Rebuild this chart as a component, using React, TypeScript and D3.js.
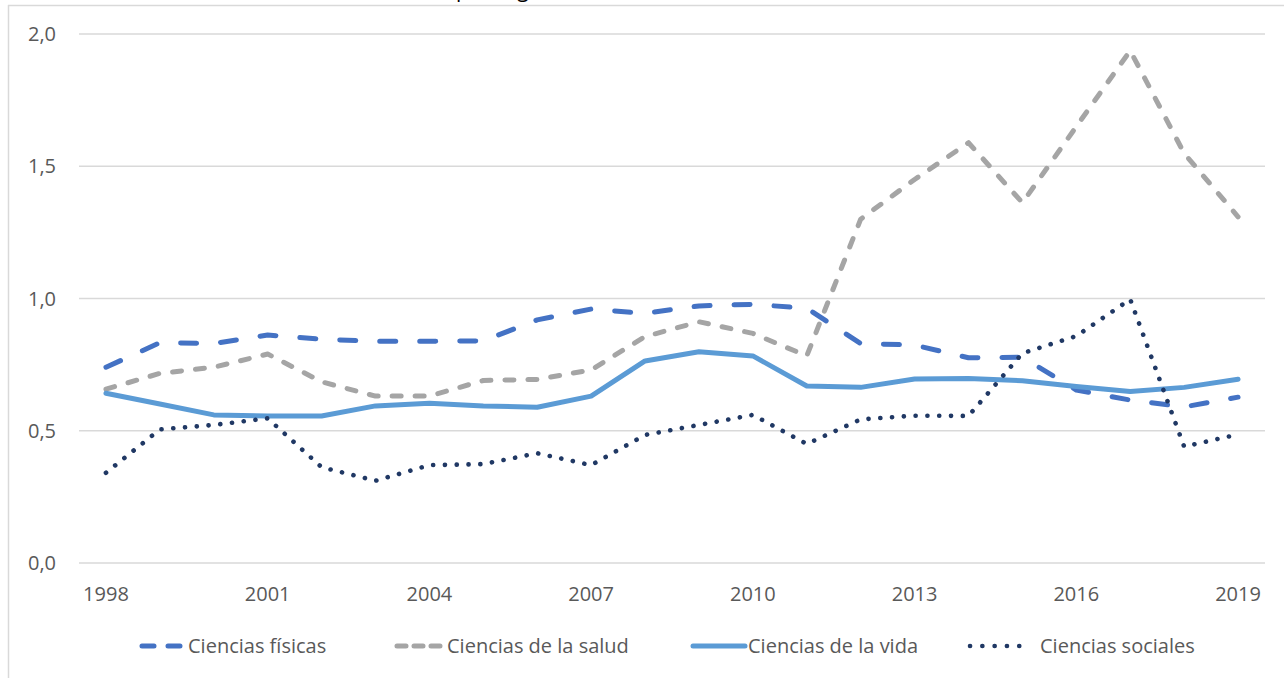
import React from "react";
import * as d3 from "d3";

const years = [1998,1999,2000,2001,2002,2003,2004,2005,2006,2007,2008,2009,2010,2011,2012,2013,2014,2015,2016,2017,2018,2019];
const yTicks = [0, 0.5, 1, 1.5, 2];
const xTickYears = [1998, 2001, 2004, 2007, 2010, 2013, 2016, 2019];

const fisicas = [0.74,0.833,0.83,0.862,0.846,0.838,0.838,0.84,0.919,0.96,0.944,0.972,0.978,0.963,0.83,0.824,0.776,0.778,0.654,0.616,0.59,0.627];
const salud = [0.657,0.717,0.74,0.79,0.685,0.631,0.631,0.69,0.694,0.73,0.856,0.912,0.868,0.783,1.30,1.45,1.589,1.362,1.65,1.937,1.549,1.309];
const vida = [0.642,0.601,0.56,0.556,0.556,0.594,0.604,0.594,0.589,0.631,0.764,0.799,0.783,0.669,0.664,0.696,0.698,0.689,0.667,0.648,0.664,0.695];
const sociales = [0.341,0.505,0.522,0.547,0.362,0.311,0.37,0.374,0.415,0.37,0.484,0.522,0.56,0.45,0.543,0.557,0.556,0.793,0.858,0.997,0.44,0.486];

const seriesNames = ["Ciencias físicas", "Ciencias de la salud", "Ciencias de la vida", "Ciencias sociales"];

const W = 1284, H = 678;
const FONT = "'Open Sans', sans-serif";
const TXT = "#595959";

export default function App() {
  const x = d3.scaleBand<number>().domain(years).range([79, 1265]);
  const cx = (yr: number) => (x(yr) as number) + x.bandwidth() / 2;
  const y = d3.scaleLinear().domain([0, 2]).range([563, 34]);
  const line = d3.line<number>().x((_, i) => cx(years[i])).y((v) => y(v));

  const styles = [
    { data: fisicas, color: "#4472C4", width: 5, dash: "16 24", cap: "round" },
    { data: salud, color: "#A5A5A5", width: 5, dash: "9 14", cap: "round" },
    { data: vida, color: "#5B9BD5", width: 5, dash: "none", cap: "round" },
    { data: sociales, color: "#203864", width: 4.6, dash: "0.1 11.7", cap: "round" },
  ];

  // legend layout: swatch start, swatch end, dash pattern, text x
  const legendLayout: [number, number, string, number][] = [
    [142, 180, "12 14", 188],
    [397, 440, "9 8", 447],
    [693, 745, "none", 748],
    [970, 1031, "0.1 12.2", 1040],
  ];

  return (
    <svg width={W} height={H} style={{ position: "absolute", left: 0, top: 0, background: "#fff" }}>
      <rect x={0} y={0} width={W} height={H} fill="#fff" />
      <text x={499} y={-3} fontFamily={FONT} fontSize={21} fill="#000" textAnchor="middle">Campo de género</text>
      <line x1={8} y1={5.5} x2={W} y2={5.5} stroke="#D9D9D9" strokeWidth={1.5} />
      <line x1={8.5} y1={5} x2={8.5} y2={H} stroke="#D9D9D9" strokeWidth={1.5} />
      {yTicks.map((t) => (
        <g key={t}>
          <line x1={79} x2={1265} y1={y(t)} y2={y(t)} stroke="#D9D9D9" strokeWidth={1.5} />
          <text x={56} y={y(t)} dy="0.35em" textAnchor="end" fontFamily={FONT} fontSize={20} fill={TXT}>
            {d3.format(".1f")(t).replace(".", ",")}
          </text>
        </g>
      ))}
      {xTickYears.map((yr) => (
        <text key={yr} x={cx(yr)} y={601} textAnchor="middle" fontFamily={FONT} fontSize={20} fill={TXT}>{yr}</text>
      ))}
      {styles.map((s, i) => (
        <path key={i} d={line(s.data) as string} fill="none" stroke={s.color} strokeWidth={s.width}
          strokeDasharray={s.dash} strokeLinecap={s.cap as any} strokeLinejoin="round" />
      ))}
      {seriesNames.map((n, i) => {
        const s = styles[i];
        const [x1, x2, dash, tx] = legendLayout[i];
        return (
          <g key={n}>
            <line x1={x1} x2={x2} y1={646} y2={646} stroke={s.color} strokeWidth={s.width}
              strokeDasharray={dash} strokeLinecap="round" />
            <text x={tx} y={646} dy="0.35em" fontFamily={FONT} fontSize={20} fill={TXT}>{n}</text>
          </g>
        );
      })}
    </svg>
  );
}
